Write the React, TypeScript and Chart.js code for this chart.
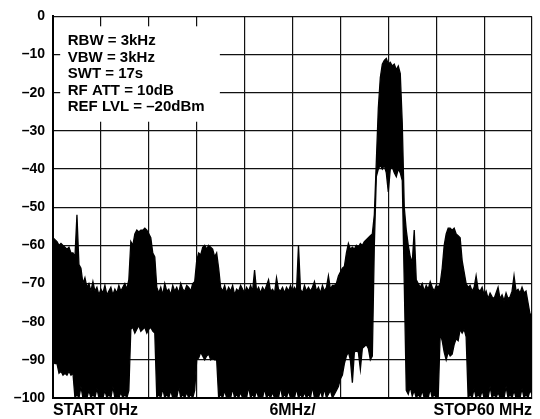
import React, { useEffect, useRef } from "react";
import { Chart, registerables } from "chart.js";

Chart.register(...registerables);

// Frequency grid step (MHz) shared by the two envelope traces
const STEP_MHZ = 0.25;

// Upper envelope of the analyzer trace (dBm), one value every 0.25 MHz from 0 to 60 MHz
const upperDbm = [
  -58, -58.5, -59, -60, -59.5, -60, -60.5, -61, -60.5, -62,
  -62, -63, -52, -65, -66, -70, -68.5, -71, -70, -72,
  -69.5, -72, -71, -73, -71.5, -72.5, -70.5, -73, -72, -71,
  -73, -71.5, -72.5, -70.5, -72, -71, -70, -71.5, -69, -59,
  -60, -57, -56, -56.5, -56, -56, -55.5, -56, -57, -58,
  -62, -63, -71, -72.5, -71, -73, -70, -72, -71.5, -73,
  -70.5, -72, -71, -72.5, -70, -71.5, -72, -70.5, -71, -72,
  -70, -69.5, -64, -62, -62.5, -60.5, -60, -61, -60, -60.5,
  -61, -63, -62, -66, -71, -72, -70.5, -72.5, -71, -72,
  -70.5, -73, -71.5, -72, -70.5, -71.5, -72.5, -71, -72, -70.5,
  -72, -66.5, -72, -71, -72.5, -71, -72, -70.5, -69, -72,
  -71.5, -72.5, -68.5, -71.5, -72, -71, -72.5, -71, -72, -70.5,
  -72, -71, -72, -60, -71.5, -72.5, -70.5, -72, -71, -72,
  -71, -69.5, -72, -71, -72.5, -70.5, -72, -71, -68, -71.5,
  -70.5, -70.5, -70, -68, -67, -66, -65.5, -62, -59.5, -61,
  -60.5, -61, -60, -60.5, -59.5, -60, -59, -58.5, -58, -57.5,
  -57, -52, -38, -24, -16, -12.5, -11.5, -11, -12.5, -12,
  -13, -12.5, -14, -13, -15, -28, -50, -56, -60, -63,
  -64.5, -56, -69, -70, -71, -70, -72, -70.5, -71.5, -69.5,
  -71, -72, -70.5, -71, -70, -66, -60, -57, -55.5, -55.5,
  -56, -55.5, -57, -57.5, -58, -64, -67, -70, -71, -70.5,
  -72, -71, -68, -71.5, -72, -71, -73, -72, -74, -72.5,
  -73.5, -74, -72.5, -71, -74, -73, -74.5, -72.5, -74, -73.5,
  -72, -68, -72, -71.5, -72.5, -71, -72.5, -72, -75, -78,
  -78,
];

// Lower envelope of the analyzer trace (dBm), same grid
const lowerDbm = [
  -90.5, -91, -91, -93.5, -93, -94, -93.5, -94, -93, -94,
  -93.5, -100, -99, -100, -97, -100, -99.5, -100, -98, -100,
  -99, -100, -97.5, -100, -99.5, -100, -98, -100, -99, -100,
  -97, -100, -99.5, -100, -98.5, -100, -99, -100, -98, -82,
  -81.5, -83, -82, -81, -82.5, -82, -81.5, -83, -82, -81.5,
  -82.5, -83, -100, -99, -100, -97.5, -100, -99, -100, -98,
  -100, -99.5, -100, -97, -100, -99, -100, -98.5, -100, -99,
  -100, -98, -90, -89.5, -88, -89, -90, -89, -88.5, -90,
  -89.5, -90, -90, -100, -99, -100, -98, -100, -99.5, -100,
  -97.5, -100, -99, -100, -98.5, -100, -99.5, -100, -97, -100,
  -99, -100, -98, -100, -99.5, -100, -97.5, -100, -99, -100,
  -98.5, -100, -99.5, -100, -97, -100, -99, -100, -98, -100,
  -99.5, -100, -97.5, -100, -99, -100, -98.5, -100, -99, -100,
  -97, -100, -99.5, -100, -98, -100, -97.5, -100, -99, -98,
  -100, -99, -98, -97, -95, -94, -91, -89, -88, -90,
  -96, -88, -87.5, -88, -92.5, -87, -86.5, -86, -87, -90,
  -89, -60, -42, -40, -39, -40, -39, -41, -46, -40,
  -39.5, -41, -42, -40, -41, -43, -70, -98, -99, -97,
  -99.5, -98, -100, -99, -100, -98, -100, -99.5, -100, -97.5,
  -100, -99, -100, -100, -83, -85, -88, -90, -88, -89,
  -88.5, -86, -84.5, -85, -82, -83, -82, -84, -100, -99,
  -100, -97.5, -100, -99, -100, -98, -100, -99.5, -100, -97,
  -100, -99, -100, -98.5, -100, -99.5, -100, -97, -100, -99,
  -100, -98, -100, -99.5, -100, -97.5, -100, -99, -100, -98,
  -99,
];

// Axis definitions
const yTicksDbm = [0, -10, -20, -30, -40, -50, -60, -70, -80, -90, -100];
const xLabelAtMHz = [0, 30, 60];
const xLabelText = ["START 0Hz", "6MHz/", "STOP60 MHz"];

// Instrument settings block
const settingsLines = [
  "RBW = 3kHz",
  "VBW = 3kHz",
  "SWT = 17s",
  "RF ATT = 10dB",
  "REF LVL = \u201320dBm",
];

const FONT = "'Liberation Sans', Arial, Helvetica, sans-serif";

export default function App() {
  const canvasRef = useRef<HTMLCanvasElement | null>(null);

  useEffect(() => {
    document.body.style.margin = "0";
    const canvas = canvasRef.current;
    if (!canvas) return;

    const freq = upperDbm.map((_, i) => i * STEP_MHZ);
    const upperPts = upperDbm.map((v, i) => ({ x: freq[i], y: v }));
    const lowerPts = lowerDbm.map((v, i) => ({ x: i * STEP_MHZ, y: v }));

    const settingsPlugin = {
      id: "settingsBox",
      beforeDatasetsDraw(chart: any) {
        const { ctx, scales } = chart;
        const xs = scales.x;
        const ys = scales.y;
        const x0 = xs.getPixelForValue(0.9);
        const x1 = xs.getPixelForValue(20.9);
        const y0 = ys.getPixelForValue(-2.6);
        const y1 = ys.getPixelForValue(-27.6);
        ctx.save();
        ctx.fillStyle = "#ffffff";
        ctx.fillRect(x0, y0, x1 - x0, y1 - y0);
        ctx.fillStyle = "#000";
        ctx.font = `bold 15px ${FONT}`;
        ctx.textBaseline = "middle";
        ctx.textAlign = "left";
        const tx = xs.getPixelForValue(1.85);
        const ty = ys.getPixelForValue(-6.5);
        settingsLines.forEach((s, i) => {
          ctx.fillText(s, tx, ty + i * 16.5);
        });
        ctx.restore();
      },
    };

    const chart = new Chart(canvas, {
      type: "line",
      data: {
        datasets: [
          {
            label: "upper",
            data: upperPts,
            borderColor: "#000",
            backgroundColor: "#000",
            borderWidth: 1.3,
            pointRadius: 0,
            tension: 0,
            fill: false,
          },
          {
            label: "lower",
            data: lowerPts,
            borderColor: "#000",
            backgroundColor: "#000",
            borderWidth: 1.3,
            pointRadius: 0,
            tension: 0,
            fill: "-1",
          },
        ],
      },
      options: {
        responsive: false,
        maintainAspectRatio: false,
        animation: false,
        layout: { padding: { left: 0, top: 15, right: 8, bottom: 0 } },
        plugins: {
          legend: { display: false },
          tooltip: { enabled: false },
          title: { display: false },
        },
        scales: {
          x: {
            type: "linear",
            min: 0,
            max: 60,
            border: { display: true, color: "#000", width: 2 },
            grid: { color: "#111", lineWidth: 1.2, drawTicks: false },
            ticks: {
              stepSize: 6,
              autoSkip: false,
              maxRotation: 0,
              align: "inner",
              padding: 3,
              color: "#000",
              font: { family: FONT, size: 16, weight: "bold" },
              callback: (v: any) => {
                const k = xLabelAtMHz.indexOf(Number(v));
                return k >= 0 ? xLabelText[k] : "";
              },
            },
            afterFit: (s: any) => {
              s.height = 21;
            },
          },
          y: {
            type: "linear",
            min: -100,
            max: 0,
            border: { display: true, color: "#000", width: 2 },
            grid: { color: "#111", lineWidth: 1.2, drawTicks: false },
            afterBuildTicks: (s: any) => {
              s.ticks = yTicksDbm.map((v) => ({ value: v }));
            },
            ticks: {
              padding: 8,
              color: "#000",
              font: { family: FONT, size: 14, weight: "bold" },
              callback: (v: any) => (Number(v) === 0 ? "0" : "\u2013" + Math.abs(Number(v))),
            },
            afterFit: (s: any) => {
              s.width = 53;
            },
          },
        },
      },
      plugins: [settingsPlugin],
    });

    return () => chart.destroy();
  }, []);

  return (
    <div style={{ width: 540, height: 419 }}>
      <canvas ref={canvasRef} width={540} height={419} />
    </div>
  );
}
